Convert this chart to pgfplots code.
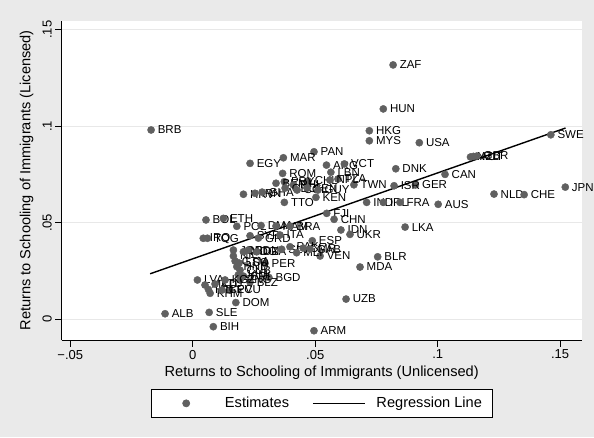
\documentclass[border=0pt]{standalone}
\usepackage{fontspec}
\setmainfont{Liberation Sans}
\usepackage{pgfplots}
\pgfplotsset{compat=1.18}
\usepackage{pgfplotstable}
\definecolor{bg}{RGB}{234,234,234}
\definecolor{mk}{RGB}{96,96,96}
\definecolor{grd}{RGB}{232,232,232}
\pgfplotsset{
  mylegmark/.style={legend image code/.code={\path (0pt,0pt) (63pt,0pt);\draw[mark repeat=2,mark phase=2,##1] plot coordinates {(0pt,0pt)(24.5pt,0pt)(49pt,0pt)};}},
  myleglin/.style={legend image code/.code={\path (0pt,0pt) (63pt,0pt);\draw[##1, line width=0.8pt] (0pt,0pt) -- (52pt,0pt);}},
}

\pgfplotstableread{
x y label
0.0818 0.1318 ZAF
0.0778 0.1090 HUN
0.0721 0.0977 HKG
0.0721 0.0925 MYS
0.0925 0.0915 USA
0.1462 0.0956 SWE
-0.0170 0.0981 BRB
0.0495 0.0868 PAN
0.0370 0.0837 MAR
0.0234 0.0808 EGY
0.0546 0.0799 ARG
0.0619 0.0805 VCT
0.0367 0.0756 ROM
0.0564 0.0762 LBN
0.0593 0.0727 TZA
0.0658 0.0697 TWN
0.0471 0.0717 CHL
0.0374 0.0713 PRY
0.0340 0.0705 BEN
0.0411 0.0696 PHL
0.0560 0.0722 NPL
0.0207 0.0648 HRV
0.0254 0.0653 IRN
0.0283 0.0659 GHA
0.0377 0.0680 GEO
0.0426 0.0670 COL
0.0467 0.0680 SEN
0.0511 0.0670 GUY
0.0374 0.0606 TTO
0.0503 0.0632 KEN
0.0710 0.0606 IND
0.0778 0.0606 IRL
0.0846 0.0606 FRA
0.1002 0.0596 AUS
0.0867 0.0478 LKA
0.0547 0.0549 FJI
0.0577 0.0518 CHN
0.0605 0.0463 IDN
0.0642 0.0440 UKR
0.0488 0.0407 ESP
0.0520 0.0328 VEN
0.0755 0.0324 BLR
0.0683 0.0271 MDA
0.0626 0.0105 UZB
0.0495 -0.0059 ARM
0.0084 -0.0038 BIH
-0.0113 0.0029 ALB
0.0067 0.0036 SLE
0.0176 0.0087 DOM
0.0311 0.0217 BGD
0.0234 0.0193 BLZ
0.0152 0.0152 ECU
0.0207 0.0224 CRI
0.0193 0.0255 CUB
0.0295 0.0290 PER
0.0189 0.0292 LSO
0.0166 0.0359 JOR
0.0166 0.0328 NIC
0.0207 0.0350 MDG
0.0227 0.0359 SDN
0.0261 0.0350 DZA
0.0173 0.0302 GTM
0.0180 0.0273 HND
0.0186 0.0230 JAM
0.0193 0.0204 PNG
0.0019 0.0204 LVA
0.0050 0.0178 MKD
0.0064 0.0155 HTI
0.0071 0.0135 KHM
0.0091 0.0183 LTU
0.0120 0.0152 CPV
0.0132 0.0204 KGZ
0.0054 0.0515 BOL
0.0125 0.0523 ETH
0.0180 0.0482 POL
0.0279 0.0486 DMA
0.0340 0.0483 NAM
0.0397 0.0483 BRA
0.0043 0.0420 IRQ
0.0060 0.0420 TOG
0.0234 0.0433 SYR
0.0268 0.0421 GRD
0.0356 0.0437 ITA
0.0363 0.0363 SLV
0.0397 0.0376 PAK
0.0424 0.0345 MLI
0.0451 0.0369 CMR
0.0479 0.0364 GAB
0.1134 0.0841 NZL
0.1146 0.0844 AUT
0.1160 0.0846 GBR
0.0829 0.0780 DNK
0.1030 0.0751 CAN
0.0909 0.0696 GER
0.0822 0.0692 ISR
0.1230 0.0649 NLD
0.1353 0.0646 CHE
0.1521 0.0685 JPN
}\pts

\begin{document}
\begin{tikzpicture}
\fill[bg] (-61.7pt,-97pt) rectangle (532.3pt,340pt);
\begin{axis}[
  at={(0pt,0pt)}, anchor=south west,
  scale only axis, width=520pt, height=319.3pt,
  xmin=-0.0535, xmax=0.1588, ymin=-0.0107, ymax=0.1547,
  axis background/.style={fill=white},
  axis x line*=bottom, axis y line*=left,
  axis line style={black, line width=0.7pt},
  tick align=outside, major tick length=6.5pt,
  tick style={black, line width=0.7pt},
  xtick={-0.05,0,0.05,0.1,0.15}, xticklabels={−.05,0,.05,.1,.15},
  ytick={0,0.05,0.1,0.15}, yticklabels={0,.05,.1,.15},
  ymajorgrids, major grid style={grd, line width=0.9pt},
  ticklabel style={font=\fontsize{13}{15}\selectfont},
  yticklabel style={rotate=90, anchor=south},
  xlabel={Returns to Schooling of Immigrants (Unlicensed)},
  ylabel={Returns to Schooling of Immigrants (Licensed)},
  every axis x label/.style={at={(axis description cs:0.5,-0.1011)}, anchor=center, font=\fontsize{14.6}{17}\selectfont},
  every axis y label/.style={at={(axis description cs:-0.0673,0.5)}, rotate=90, anchor=center, font=\fontsize{14.6}{17}\selectfont},
  clip=false,
  legend columns=2,
  legend style={at={(axis description cs:0.5,0)}, anchor=north, yshift=-49pt,
    draw=black, line width=0.6pt, fill=white,
    font=\fontsize{14.6}{17}\selectfont,
    inner xsep=10.5pt, inner ysep=8pt, nodes={inner sep=0pt},
    /tikz/every even column/.append style={column sep=23pt},
    /tikz/every odd column/.append style={column sep=0pt}},
]
\addplot[only marks, mark=*, mark size=3.6pt, color=mk,
  mark options={draw=mk, fill=mk},
  nodes near coords, point meta=explicit symbolic,
  nodes near coords style={anchor=west, text=black, font=\fontsize{11.5}{13}\selectfont, inner sep=0pt, xshift=6.5pt},
  mylegmark
] table[x=x, y=y, meta=label] {\pts};
\addlegendentry{Estimates}
\addplot[black, line width=1.4pt, myleglin] coordinates {(-0.0174,0.0236) (0.1522,0.0991)};
\addlegendentry{Regression Line}
\end{axis}
\pgfresetboundingbox
\path[use as bounding box] (-61.7pt,-97pt) rectangle (532.3pt,340pt);
\end{tikzpicture}
\end{document}
